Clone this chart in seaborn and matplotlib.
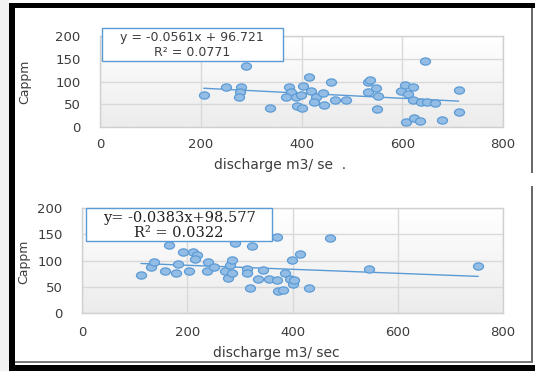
import numpy as np
import pandas as pd
import matplotlib
matplotlib.use("Agg")
import matplotlib.pyplot as plt
from matplotlib.path import Path
from matplotlib.patches import Rectangle
from matplotlib.colors import LinearSegmentedColormap
import seaborn as sns

# ---- data -------------------------------------------------------------
dis_top = [206, 250, 279, 277, 276, 290, 338, 375, 379, 369, 390, 392, 400,
           403, 415, 418, 399, 428, 425, 442, 444, 459, 467, 488, 532, 536,
           532, 548, 551, 550, 597, 605, 621, 611, 621, 638, 650, 666, 646,
           608, 624, 635, 679, 712, 712]
ca_top = [71, 88, 88, 78, 67, 133, 42, 88, 77, 65, 65, 47, 42, 90, 110, 80,
          70, 66, 55, 74, 48, 98, 59, 59, 100, 104, 77, 85, 68, 39, 79, 92,
          88, 72, 59, 55, 55, 52, 145, 10, 20, 13, 15, 81, 32]

dis_bot = [112, 132, 137, 158, 165, 179, 183, 191, 203, 210, 218, 214, 239,
           238, 250, 272, 277, 281, 285, 285, 290, 313, 313, 320, 323, 334,
           343, 355, 370, 371, 373, 382, 386, 395, 401, 403, 399, 415, 431,
           471, 545, 753]
ca_bot = [73, 88, 97, 80, 129, 76, 93, 116, 80, 116, 111, 103, 97, 80, 88,
          80, 67, 92, 101, 77, 134, 84, 77, 48, 127, 65, 82, 65, 63, 144, 42,
          44, 76, 65, 56, 62, 101, 112, 48, 143, 84, 89]

fit_top = (-0.0561, 96.721, 0.0771)
fit_bot = (-0.0383, 98.577, 0.0322)

x_ticks = [0, 200, 400, 600, 800]
y_ticks = [0, 50, 100, 150, 200]
y_label = "Cappm"
x_label_top = "discharge m3/ se  ."
x_label_bot = "discharge m3/ sec"

# ---- styling ------------------------------------------------------------
sns.set_style("white")
plt.rcParams["font.family"] = ["DejaVu Sans"]

W, H = 535, 371
fig = plt.figure(figsize=(W / 100, H / 100), dpi=100)
fig.patch.set_facecolor("white")


def fx(px):
    return px / W


def fy(py):
    return 1 - py / H


TEXT = "#3c3c3c"
FILL = "#94bde6"
EDGE = "#5b9bd5"
GRID = "#d9d9d9"

circ = Path.unit_circle()
oval = Path(circ.vertices * np.array([1.0, 0.72]), circ.codes)

grad = LinearSegmentedColormap.from_list("pa", ["#ffffff", "#ececec"])


def panel(rect, xs, ys, fit, xlabel, ypad, xpad):
    ax = fig.add_axes(rect)
    ax.imshow(np.linspace(0, 1, 64).reshape(-1, 1), extent=(0, 1, 0, 1),
              transform=ax.transAxes, cmap=grad, aspect="auto", zorder=0)
    df = pd.DataFrame({"discharge": xs, "ca": ys})
    sns.scatterplot(data=df, x="discharge", y="ca", ax=ax, marker=oval,
                    s=52, color=FILL, edgecolor=EDGE, linewidth=0.9,
                    zorder=4)
    slope, icpt, _ = fit
    lx = np.array([min(xs), max(xs)])
    sns.lineplot(x=lx, y=slope * lx + icpt, ax=ax, color=EDGE, lw=1.0,
                 zorder=3)
    ax.set_xlim(0, 800)
    ax.set_ylim(0, 200)
    ax.set_xticks(x_ticks)
    ax.set_yticks(y_ticks)
    ax.grid(True, color=GRID, lw=1.0, zorder=1)
    ax.set_axisbelow(True)
    for sp in ax.spines.values():
        sp.set_color("#d0d0d0")
        sp.set_linewidth(1.0)
    ax.tick_params(length=0, labelsize=9.5, labelcolor=TEXT)
    ax.tick_params(axis="y", pad=ypad)
    ax.tick_params(axis="x", pad=xpad)
    ax.set_xlabel("")
    ax.set_ylabel("")
    return ax


ax1 = panel([fx(100), fy(127), (503 - 100) / W, (127 - 36) / H],
            dis_top, ca_top, fit_top, x_label_top, 14, 8)
ax2 = panel([fx(82), fy(313), (503 - 82) / W, (313 - 208) / H],
            dis_bot, ca_bot, fit_bot, x_label_bot, 14, 9)

# axis titles
fig.text(fx(280), fy(165), x_label_top, ha="center", va="center",
         fontsize=10, color=TEXT)
fig.text(fx(276), fy(353), x_label_bot, ha="center", va="center",
         fontsize=10, color=TEXT)
fig.text(fx(25), fy(82), y_label, rotation=90, ha="center", va="center",
         fontsize=9, color=TEXT)
fig.text(fx(24), fy(262), y_label, rotation=90, ha="center", va="center",
         fontsize=9, color=TEXT)

# trendline equation boxes
fig.patches.append(Rectangle((fx(102), fy(61)), (283 - 102) / W, 33 / H,
                             transform=fig.transFigure, facecolor="white",
                             edgecolor=EDGE, lw=1.0, zorder=5))
fig.text(fx(192), fy(38), f"y = {fit_top[0]}x + {fit_top[1]}", ha="center",
         va="center", fontsize=9, color=TEXT, zorder=6)
fig.text(fx(192), fy(52), f"R² = {fit_top[2]}", ha="center", va="center",
         fontsize=9, color=TEXT, zorder=6)

fig.patches.append(Rectangle((fx(86), fy(241)), (272 - 86) / W, 33 / H,
                             transform=fig.transFigure, facecolor="white",
                             edgecolor=EDGE, lw=1.0, zorder=5))
fig.text(fx(179), fy(218), f"y= {fit_bot[0]}x+{fit_bot[1]}", ha="center",
         va="center", fontsize=10.5, color="#222222", zorder=6,
         family=["DejaVu Serif"])
fig.text(fx(179), fy(233), f"R² = {fit_bot[2]}", ha="center", va="center",
         fontsize=10.5, color="#222222", zorder=6, family=["DejaVu Serif"])

# page frame around both charts
frame = [
    ((0, 0), 9, H, "#f2f2f2"),          # margin at the left
    ((9, 3), 6, H - 3, "black"),        # left rule
    ((9, 3), W - 9, 5, "black"),        # top rule
    ((15, 365), W - 15, 6, "black"),    # bottom rule
    ((15, 361), 518, 1.5, "#7a7a7a"),   # thin line above bottom rule
    ((531, 8), 1.5, 165, "#6a6a6a"),    # right edge, upper chart
    ((531, 186), 1.5, 176, "#6a6a6a"),  # right edge, lower chart
]
for (x0, y0), w, h, c in frame:
    fig.patches.append(Rectangle((fx(x0), fy(y0 + h)), w / W, h / H,
                                 transform=fig.transFigure, facecolor=c,
                                 edgecolor="none", zorder=7))

fig.savefig("out.png", dpi=100)
